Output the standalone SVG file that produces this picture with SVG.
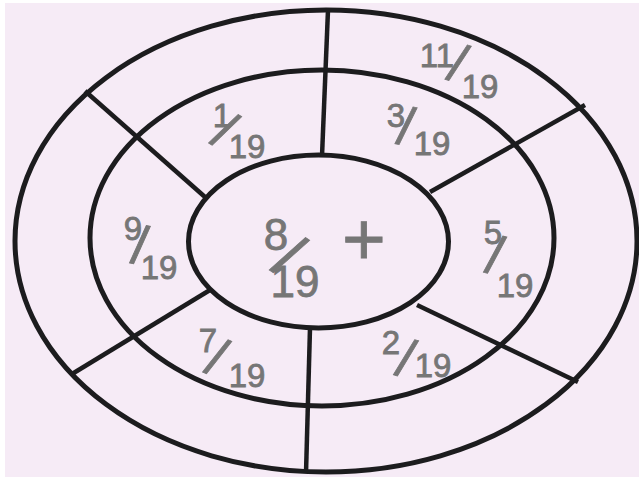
<svg xmlns="http://www.w3.org/2000/svg" width="639" height="483" viewBox="0 0 639 483">
<style>
.ring{fill:none;stroke:#1c1c1e;stroke-width:5}
.div{stroke:#1c1c1e;stroke-width:4.5;stroke-linecap:butt}
.t{font-family:"Liberation Sans",Arial,sans-serif;fill:#767676;stroke:#767676;stroke-width:0.8;text-anchor:middle}
.n{font-size:33px}
.s{font-size:54px}
.big{font-size:44px}
</style>
<rect x="0" y="0" width="639" height="483" fill="#ffffff"/>
<rect x="5" y="3" width="634" height="474" fill="#f6ebf6"/>
<g id="connectors">
<line class="div" x1="328" y1="10" x2="322" y2="156"/>
<line class="div" x1="310" y1="328" x2="306" y2="473"/>
<line class="div" x1="85" y1="91" x2="205" y2="197"/>
<line class="div" x1="430" y1="192" x2="585" y2="105"/>
<line class="div" x1="210" y1="290" x2="72" y2="374"/>
<line class="div" x1="417" y1="305" x2="578" y2="382"/>
</g>
<g id="outer-ring"><ellipse class="ring" cx="326" cy="241" rx="311" ry="231"/></g>
<g id="middle-ring"><ellipse class="ring" cx="322" cy="238" rx="232" ry="168"/></g>
<g id="inner-ring"><ellipse class="ring" cx="318.5" cy="241.5" rx="130" ry="86.5"/></g>
<g id="label-1-19">
<text class="t n" x="222" y="127">1</text>
<text class="t s" transform="translate(225,130) rotate(31)" x="0" y="19">/</text>
<text class="t n" x="247" y="158">19</text>
</g>
<g id="label-11-19">
<text class="t n" x="437" y="67">11</text>
<text class="t s" transform="translate(458,63) rotate(18)" x="0" y="19">/</text>
<text class="t n" x="480" y="98">19</text>
</g>
<g id="label-3-19">
<text class="t n" x="396" y="127">3</text>
<text class="t s" transform="translate(406,126) rotate(11)" x="0" y="19">/</text>
<text class="t n" x="432" y="155">19</text>
</g>
<g id="label-9-19">
<text class="t n" x="133" y="240">9</text>
<text class="t s" transform="translate(140,245) rotate(9)" x="0" y="19">/</text>
<text class="t n" x="159" y="279">19</text>
</g>
<g id="label-8-19">
<text class="t big" x="276" y="250">8</text>
<text class="t s" transform="translate(289,256) rotate(33)" x="0" y="22" style="font-size:64px">/</text>
<text class="t big" x="295" y="297">19</text>
<text class="t" x="364" y="265" style="font-size:75px">+</text>
</g>
<g id="label-5-19">
<text class="t n" x="493" y="244">5</text>
<text class="t s" transform="translate(495,255) rotate(13)" x="0" y="19">/</text>
<text class="t n" x="515" y="297">19</text>
</g>
<g id="label-7-19">
<text class="t n" x="208" y="352">7</text>
<text class="t s" transform="translate(217,357) rotate(23)" x="0" y="19">/</text>
<text class="t n" x="247" y="387">19</text>
</g>
<g id="label-2-19">
<text class="t n" x="391" y="354">2</text>
<text class="t s" transform="translate(406,358) rotate(16)" x="0" y="19">/</text>
<text class="t n" x="433" y="377">19</text>
</g>
</svg>
